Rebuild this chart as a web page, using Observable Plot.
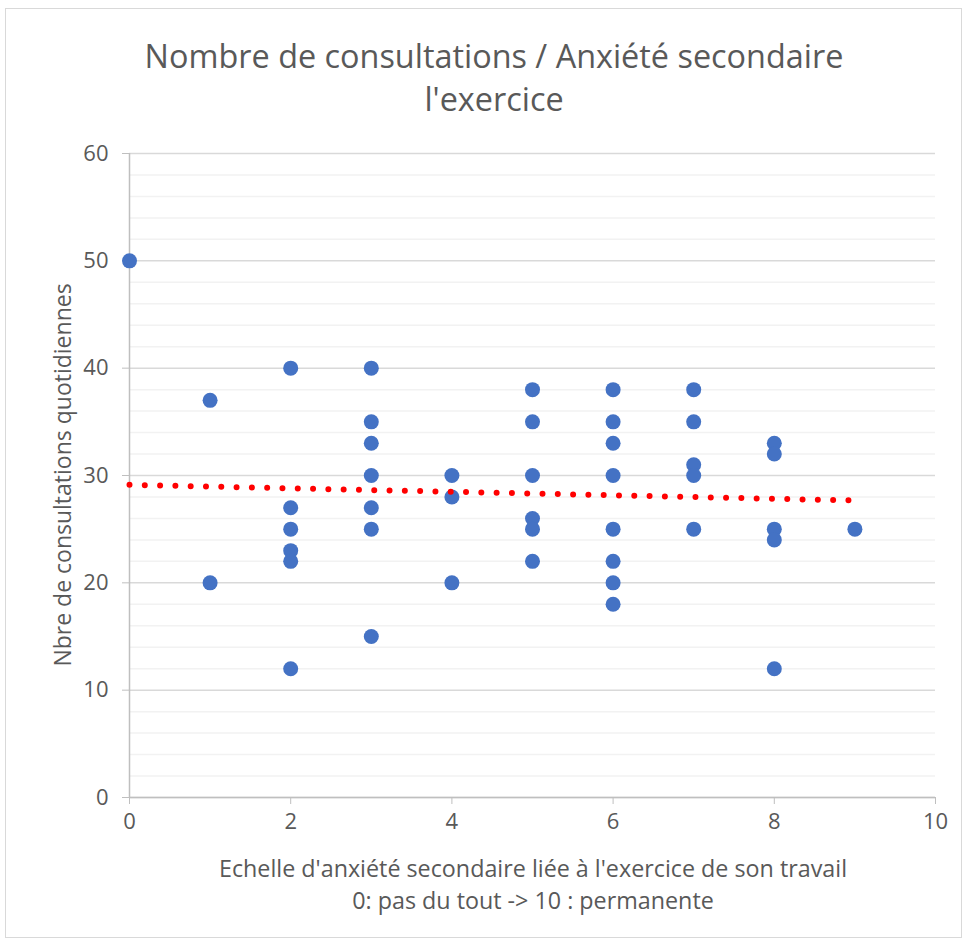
<!DOCTYPE html>
<html>
<head>
<meta charset="utf-8">
<script src="https://cdn.jsdelivr.net/npm/d3@7"></script>
<script src="https://cdn.jsdelivr.net/npm/@observablehq/plot@0.6"></script>
<style>
  html, body { margin: 0; padding: 0; background: #fff; }
  #wrap { position: relative; width: 965px; height: 942px; overflow: hidden; font-family: "Open Sans", Lato, sans-serif; color: #595959; }
  #frame { position: absolute; left: 5px; top: 8px; width: 957px; height: 930px; border: 1px solid #d9d9d9; box-sizing: border-box; }
  .title { position: absolute; left: 0; width: 988px; text-align: center; font-size: 32.4px; }
  .xlab { position: absolute; left: 0; width: 1066px; text-align: center; font-size: 23.3px; }
  #ylab { position: absolute; left: 62px; top: 475px; transform: translate(-50%, -50%) rotate(-90deg); white-space: nowrap; font-size: 23px; }
  #chart { position: absolute; left: 0; top: 120px; }
</style>
</head>
<body>
<div id="wrap">
  <div id="frame"></div>
  <div class="title" id="t1"></div>
  <div class="title" id="t2"></div>
  <div class="xlab" id="x1"></div>
  <div class="xlab" id="x2"></div>
  <div id="ylab"></div>
  <div id="chart"></div>
</div>
<script>
// ---- Data ----
const titleLines = ["Nombre de consultations / Anxiété secondaire", "l'exercice"];
const xLabelLines = ["Echelle d'anxiété secondaire liée à l'exercice de son travail", "0: pas du tout -> 10 : permanente"];
const yLabel = "Nbre de consultations quotidiennes";

const anxiety = [0, 1, 1, 2, 2, 2, 2, 2, 2, 3, 3, 3, 3, 3, 3, 3, 4, 4, 4, 5, 5, 5, 5, 5, 5, 6, 6, 6, 6, 6, 6, 6, 6, 7, 7, 7, 7, 7, 8, 8, 8, 8, 8, 9];
const consultations = [50, 37, 20, 40, 27, 25, 23, 22, 12, 40, 35, 33, 30, 27, 25, 15, 30, 28, 20, 38, 35, 30, 26, 25, 22, 38, 35, 33, 30, 25, 22, 20, 18, 38, 35, 31, 30, 25, 33, 32, 25, 24, 12, 25];

const trendX = [0, 9];
const trendY = [29.13, 27.67];

const xTicks = [0, 2, 4, 6, 8, 10];
const yTicks = [0, 10, 20, 30, 40, 50, 60];
const yMinorTicks = [2, 4, 6, 8, 12, 14, 16, 18, 22, 24, 26, 28, 32, 34, 36, 38, 42, 44, 46, 48, 52, 54, 56, 58];

// ---- Build ----
const points = anxiety.map((x, i) => ({x, y: consultations[i]}));
const trend = trendX.map((x, i) => ({x, y: trendY[i]}));

document.getElementById("t1").textContent = titleLines[0];
document.getElementById("t2").textContent = titleLines[1];
document.getElementById("x1").textContent = xLabelLines[0];
document.getElementById("x2").textContent = xLabelLines[1];
document.getElementById("ylab").textContent = yLabel;

const place = (id, cy) => { const el = document.getElementById(id); el.style.top = (cy - el.offsetHeight / 2) + "px"; };
place("t1", 55); place("t2", 98); place("x1", 868); place("x2", 900);

const chart = Plot.plot({
  width: 965,
  height: 822,
  marginTop: 33,
  marginBottom: 145,
  marginLeft: 129,
  marginRight: 30,
  style: {fontFamily: "'Open Sans', Lato, sans-serif", fontSize: "23px", color: "#595959", background: "transparent"},
  x: {domain: [0, 10], label: null},
  y: {domain: [0, 60], label: null},
  marks: [
    Plot.ruleY(yMinorTicks, {stroke: "#f2f2f2", strokeWidth: 1.5}),
    Plot.ruleY(yTicks, {stroke: "#d9d9d9", strokeWidth: 1.5}),
    Plot.ruleX([0], {stroke: "#bfbfbf", strokeWidth: 1.5}),
    Plot.ruleY([0], {stroke: "#bfbfbf", strokeWidth: 1.5}),
    Plot.axisY({ticks: yTicks, tickSize: 7, tickPadding: 14, stroke: "#bfbfbf", fill: "#595959", label: null, fontSize: 22}),
    Plot.axisX({ticks: xTicks, tickSize: 7, tickPadding: 9, stroke: "#bfbfbf", fill: "#595959", label: null, fontSize: 22}),
    Plot.dot(points, {x: "x", y: "y", r: 7.5, fill: "#4472C4", stroke: "none"}),
    Plot.line(trend, {x: "x", y: "y", stroke: "#ff0000", strokeWidth: 6, strokeDasharray: "0 15.3", strokeLinecap: "round"})
  ]
});
document.getElementById("chart").appendChild(chart);
</script>
</body>
</html>
